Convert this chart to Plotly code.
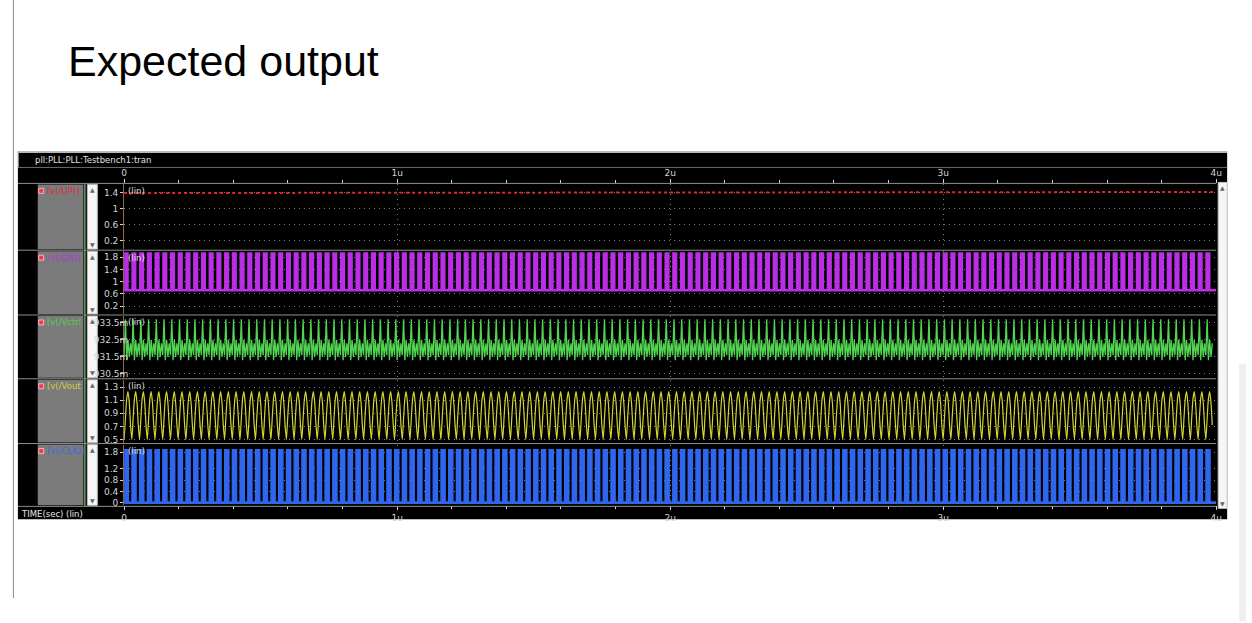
import plotly.graph_objects as go

W, H = 1252, 623

# ---------------- data ----------------
X_TICK_VALS = [0, 1, 2, 3, 4]                 # microseconds
X_TICK_TEXT = ["0", "1u", "2u", "3u", "4u"]

PERIOD_US = 0.0283                            # oscillation period
N_CYCLES = 141

# v(/UP): nearly flat line ~1.4 V
UP_T = [0.0, 1.0, 2.0, 3.0, 3.25, 4.0]
UP_V = [1.384, 1.387, 1.391, 1.395, 1.409, 1.411]

# v(/DN): pulse train
DN_LOW, DN_HIGH, DN_DUTY = 0.72, 1.92, 0.33

# v(/Vctrl): one cycle shape (mV)
VCTRL_CYCLE = [931.6, 933.7, 931.3, 932.5, 931.5, 932.3]

# v(/Vout): one cycle shape (V)
VOUT_CYCLE = [0.50, 0.82, 1.12, 1.23, 1.06, 0.72]

# v(/CLK): pulse train
CLK_LOW, CLK_HIGH, CLK_DUTY = 0.0, 1.86, 0.36

SIG_NAMES = ["[v(/UP)]", "[v(/DN)]", "[v(/Vctrl", "[v(/Vout", "[v(/CLK)]"]
SIG_COLORS = ["#e3262b", "#bb2ee6", "#52d452", "#d4d634", "#2f66ee"]
LABEL_COLORS = ["#d8303a", "#a83ad8", "#4ed04e", "#d2d23a", "#3a6ae0"]

Y_RANGES = [[-0.02, 1.6], [-0.06, 2.0], [0.93027, 0.93390], [0.455, 1.41], [-0.1, 2.07]]
Y_TICK_VALS = [[0.2, 0.6, 1, 1.4], [0.2, 0.6, 1, 1.4, 1.8],
               [0.9305, 0.9315, 0.9325, 0.9335], [0.5, 0.7, 0.9, 1.1, 1.3],
               [0, 0.4, 0.8, 1.2, 1.8]]
Y_TICK_TEXT = [["0.2", "0.6", "1", "1.4"], ["0.2", "0.6", "1", "1.4", "1.8"],
               ["930.5m", "931.5m", "932.5m", "933.5m"], ["0.5", "0.7", "0.9", "1.1", "1.3"],
               ["0", "0.4", "0.8", "1.2", "1.8"]]

# ---------------- layout geometry (pixels) ----------------
PANEL_PX = [(185, 250), (252, 315), (317, 379), (381, 444), (446, 507)]
PLOT_L, PLOT_R = 122, 1222


def fx(p):
    return p / W


def fy(p):
    return 1 - p / H


starts = [i * PERIOD_US for i in range(N_CYCLES)]


def pulse(low, high, duty):
    xs, ys = [0.0], [low]
    for t0 in starts:
        a, b = t0 + 0.1 * PERIOD_US, t0 + (0.1 + duty) * PERIOD_US
        xs += [a, a, b, b]
        ys += [low, high, high, low]
    xs.append(4.0)
    ys.append(low)
    return xs, ys


def cyclic(shape):
    xs, ys = [], []
    n = len(shape)
    for t0 in starts:
        for k, v in enumerate(shape):
            xs.append(t0 + k * PERIOD_US / n)
            ys.append(v)
    return xs, ys


fig = go.Figure()

fig.add_trace(go.Scatter(x=UP_T, y=UP_V, mode="lines", xaxis="x", yaxis="y",
                         line=dict(color=SIG_COLORS[0], width=2, dash="3px,3px")))
dx, dy = pulse(DN_LOW, DN_HIGH, DN_DUTY)
fig.add_trace(go.Scatter(x=dx, y=dy, mode="lines", xaxis="x2", yaxis="y2",
                         line=dict(color=SIG_COLORS[1], width=2.6)))
vx, vy = cyclic(VCTRL_CYCLE)
vy = [v / 1000 for v in vy]
fig.add_trace(go.Scatter(x=vx, y=vy, mode="lines", xaxis="x3", yaxis="y3",
                         line=dict(color=SIG_COLORS[2], width=1.3)))
ox, oy = cyclic(VOUT_CYCLE)
fig.add_trace(go.Scatter(x=ox, y=oy, mode="lines", xaxis="x4", yaxis="y4",
                         line=dict(color=SIG_COLORS[3], width=1.2, shape="spline",
                                   smoothing=0.6)))
cx, cy = pulse(CLK_LOW, CLK_HIGH, CLK_DUTY)
fig.add_trace(go.Scatter(x=cx, y=cy, mode="lines", xaxis="x5", yaxis="y5",
                         line=dict(color=SIG_COLORS[4], width=2.8)))

UI_FONT = "DejaVu Sans"
TICK_COL = "#d4d4d4"
GRID_COL = "#7a7a7a"

layout = dict(
    width=W, height=H, autosize=False,
    margin=dict(l=0, r=0, t=0, b=0),
    paper_bgcolor="white", plot_bgcolor="black",
    showlegend=False,
    font=dict(family=UI_FONT, size=9, color=TICK_COL),
)

for i, (top, bot) in enumerate(PANEL_PX):
    n = "" if i == 0 else str(i + 1)
    xa = dict(domain=[fx(PLOT_L), fx(PLOT_R)], range=[0, 4], anchor="y" + n,
              tickvals=X_TICK_VALS, ticktext=X_TICK_TEXT,
              showgrid=True, gridcolor=GRID_COL, griddash="1px,4px", gridwidth=1,
              zeroline=False, showline=False, fixedrange=True,
              showticklabels=False, ticks="")
    if i > 0:
        xa["matches"] = "x"
    if i in (0, 4):
        xa.update(side="top" if i == 0 else "bottom", showticklabels=True,
                  ticks="outside", ticklen=4,
                  tickcolor=TICK_COL, tickfont=dict(size=9, color=TICK_COL),
                  minor=dict(tickmode="linear", tick0=0, dtick=0.2, ticks="outside",
                             ticklen=3, tickcolor=TICK_COL, showgrid=False))
    ya = dict(domain=[fy(bot), fy(top)], range=Y_RANGES[i], anchor="x" + n,
              tickvals=Y_TICK_VALS[i], ticktext=Y_TICK_TEXT[i],
              showgrid=True, gridcolor=GRID_COL, griddash="1px,4px", gridwidth=1,
              zeroline=False, showline=True, linecolor="#8a6a4a", linewidth=1,
              ticks="outside", ticklen=3, tickcolor=TICK_COL,
              tickfont=dict(size=9, color=TICK_COL), fixedrange=True)
    if i == 2:
        ya["ticklabelstandoff"] = -10
    layout["xaxis" + n] = xa
    layout["yaxis" + n] = ya

shapes = []
shapes.append(dict(type="line", xref="paper", yref="paper", x0=fx(10.5), x1=fx(10.5),
                   y0=fy(0), y1=fy(600), line=dict(color="#8c8c8c", width=1)))
shapes.append(dict(type="rect", xref="paper", yref="paper", x0=fx(1245), x1=fx(1252),
                   y0=fy(623), y1=fy(365), fillcolor="#efefef", line=dict(width=0),
                   layer="below"))
shapes.append(dict(type="rect", xref="paper", yref="paper", x0=fx(15), x1=fx(1233),
                   y0=fy(521), y1=fy(152), fillcolor="black", line=dict(width=0),
                   layer="below"))
shapes.append(dict(type="line", xref="paper", yref="paper", x0=fx(15), x1=fx(1233),
                   y0=fy(152.5), y1=fy(152.5), line=dict(color="#b8b8b8", width=2)))
shapes.append(dict(type="line", xref="paper", yref="paper", x0=fx(15.5), x1=fx(15.5),
                   y0=fy(168), y1=fy(152), line=dict(color="#9a9a9a", width=1)))
shapes.append(dict(type="line", xref="paper", yref="paper", x0=fx(15), x1=fx(1233),
                   y0=fy(168), y1=fy(168), line=dict(color="#6a6a6a", width=1)))
for i, (top, bot) in enumerate(PANEL_PX):
    shapes.append(dict(type="rect", xref="paper", yref="paper", x0=fx(35), x1=fx(81),
                       y0=fy(bot), y1=fy(top), fillcolor="#7b7b7b", line=dict(width=0),
                       layer="below"))
    shapes.append(dict(type="rect", xref="paper", yref="paper", x0=fx(85), x1=fx(95),
                       y0=fy(bot), y1=fy(top), fillcolor="#f6f6f6",
                       line=dict(color="#bdbdbd", width=1), layer="below"))
    shapes.append(dict(type="rect", xref="paper", yref="paper", x0=fx(36), x1=fx(41),
                       y0=fy(top + 9), y1=fy(top + 4), fillcolor="#e5404e",
                       line=dict(color="#ffb0b8", width=1)))
shapes.append(dict(type="line", xref="paper", yref="paper", x0=fx(82.5), x1=fx(82.5),
                   y0=fy(508), y1=fy(184), line=dict(color="#86c486", width=1.2)))
shapes.append(dict(type="rect", xref="paper", yref="paper", x0=fx(1224), x1=fx(1233),
                   y0=fy(510), y1=fy(183), fillcolor="#f6f6f6",
                   line=dict(color="#c8c8c8", width=1), layer="below"))
for yy in [184, 251, 316, 380, 445, 508]:
    shapes.append(dict(type="line", xref="paper", yref="paper", x0=fx(15), x1=fx(1222),
                       y0=fy(yy), y1=fy(yy), line=dict(color="#8e8e8e", width=1)))
layout["shapes"] = shapes

ann = []
ann.append(dict(text="Expected output", xref="paper", yref="paper", x=fx(63), y=fy(61),
                xanchor="left", yanchor="middle", showarrow=False,
                font=dict(family="Liberation Sans", size=43, color="black")))
ann.append(dict(text="pll:PLL:PLL:Testbench1:tran", xref="paper", yref="paper",
                x=fx(30), y=fy(160.5), xanchor="left", yanchor="middle", showarrow=False,
                font=dict(family=UI_FONT, size=8.5, color="#e0e0e0")))
ann.append(dict(text="TIME(sec) (lin)", xref="paper", yref="paper",
                x=fx(16), y=fy(516), xanchor="left", yanchor="middle", showarrow=False,
                font=dict(family=UI_FONT, size=8.5, color="#e8e8e8")))
for i, (top, bot) in enumerate(PANEL_PX):
    ann.append(dict(text=SIG_NAMES[i], xref="paper", yref="paper", x=fx(42),
                    y=fy(top + 6.5), xanchor="left", yanchor="middle", showarrow=False,
                    font=dict(family=UI_FONT, size=8.5, color=LABEL_COLORS[i])))
    ann.append(dict(text="(lin)", xref="paper", yref="paper", x=fx(124),
                    y=fy(top + 6.5), xanchor="left", yanchor="middle", showarrow=False,
                    font=dict(family=UI_FONT, size=8.5, color="#dcdcdc")))
    ann.append(dict(text="▲", xref="paper", yref="paper", x=fx(90), y=fy(top + 5),
                    xanchor="center", yanchor="middle", showarrow=False,
                    font=dict(size=6, color="#666666")))
    ann.append(dict(text="▼", xref="paper", yref="paper", x=fx(90), y=fy(bot - 5),
                    xanchor="center", yanchor="middle", showarrow=False,
                    font=dict(size=6, color="#666666")))
ann.append(dict(text="▲", xref="paper", yref="paper", x=fx(1228.5), y=fy(188),
                xanchor="center", yanchor="middle", showarrow=False,
                font=dict(size=6, color="#666666")))
ann.append(dict(text="▼", xref="paper", yref="paper", x=fx(1228.5), y=fy(505),
                xanchor="center", yanchor="middle", showarrow=False,
                font=dict(size=6, color="#666666")))
layout["annotations"] = ann

fig.update_layout(**layout)
fig.write_html("out.html", config={"displayModeBar": False})
